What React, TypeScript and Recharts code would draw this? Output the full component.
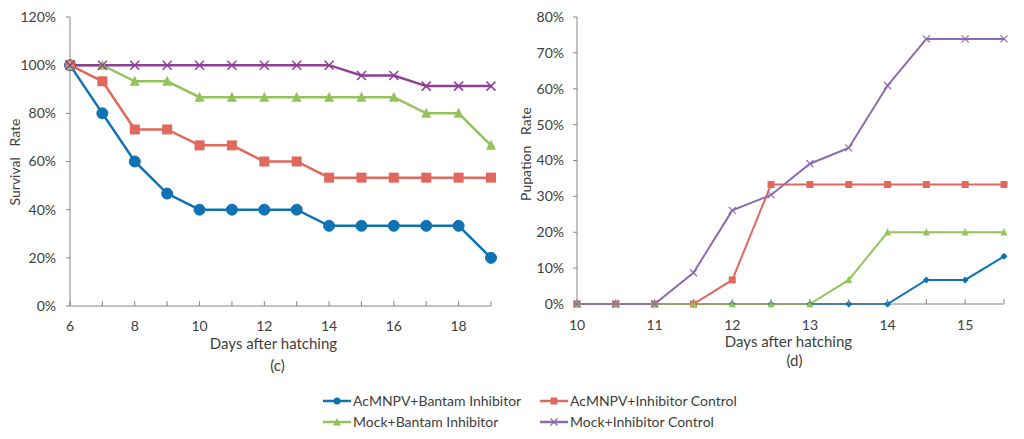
import React from 'react';
import { LineChart, Line, XAxis, YAxis, Legend } from 'recharts';

const daysC = [6, 7, 8, 9, 10, 11, 12, 13, 14, 15, 16, 17, 18, 19];
const cBantam = [100, 80, 60, 46.7, 40, 40, 40, 40, 33.3, 33.3, 33.3, 33.3, 33.3, 20];
const cControl = [100, 93.3, 73.3, 73.3, 66.7, 66.7, 60, 60, 53.3, 53.3, 53.3, 53.3, 53.3, 53.3];
const cMockBantam = [100, 100, 93.3, 93.3, 86.7, 86.7, 86.7, 86.7, 86.7, 86.7, 86.7, 80, 80, 66.7];
const cMockControl = [100, 100, 100, 100, 100, 100, 100, 100, 100, 95.7, 95.7, 91.3, 91.3, 91.3];
const cYTicks = [0, 20, 40, 60, 80, 100, 120];

const daysD = [10, 10.5, 11, 11.5, 12, 12.5, 13, 13.5, 14, 14.5, 15, 15.5];
const dBantam = [0, 0, 0, 0, 0, 0, 0, 0, 0, 6.7, 6.7, 13.3];
const dControl = [0, 0, 0, 0, 6.7, 33.3, 33.3, 33.3, 33.3, 33.3, 33.3, 33.3];
const dMockBantam = [0, 0, 0, 0, 0, 0, 0, 6.7, 20, 20, 20, 20];
const dMockControl = [0, 0, 0, 8.7, 26.1, 30.4, 39.1, 43.5, 60.9, 73.9, 73.9, 73.9];
const dYTicks = [0, 10, 20, 30, 40, 50, 60, 70, 80];

const seriesNames = [
  'AcMNPV+Bantam Inhibitor',
  'AcMNPV+Inhibitor Control',
  'Mock+Bantam Inhibitor',
  'Mock+Inhibitor Control',
];

const dataC = daysC.map((d, i) => ({
  day: d,
  a: cBantam[i],
  b: cControl[i],
  c: cMockBantam[i],
  d: cMockControl[i],
}));
const dataD = daysD.map((d, i) => ({
  day: d,
  a: dBantam[i],
  b: dControl[i],
  c: dMockBantam[i],
  d: dMockControl[i],
}));

const BLUE = '#0E72B3';
const RED = '#E0685C';
const GREEN = '#95C35B';
const PURPLE_C = '#8E3F96';
const PURPLE_D = '#8C6BB0';
const AXIS = '#868686';
const TEXT = '#404040';
const FONT = 'Lato, "Open Sans", sans-serif';

const circleDot = (r: number, color: string) => (p: any) => {
  if (p.cx == null || p.cy == null) return <g key={p.index} />;
  return <circle key={p.index} cx={p.cx} cy={p.cy} r={r} fill={color} stroke={color} />;
};
const squareDot = (s: number, color: string) => (p: any) => {
  if (p.cx == null || p.cy == null) return <g key={p.index} />;
  return <rect key={p.index} x={p.cx - s / 2} y={p.cy - s / 2} width={s} height={s} fill={color} />;
};
const triDot = (s: number, color: string) => (p: any) => {
  if (p.cx == null || p.cy == null) return <g key={p.index} />;
  const h = s * 0.9;
  return (
    <polygon
      key={p.index}
      points={`${p.cx},${p.cy - h / 2 - 1} ${p.cx - s / 2},${p.cy + h / 2} ${p.cx + s / 2},${p.cy + h / 2}`}
      fill={color}
    />
  );
};
const diamondDot = (s: number, color: string) => (p: any) => {
  if (p.cx == null || p.cy == null) return <g key={p.index} />;
  const r = s / 2;
  return (
    <polygon
      key={p.index}
      points={`${p.cx},${p.cy - r} ${p.cx + r},${p.cy} ${p.cx},${p.cy + r} ${p.cx - r},${p.cy}`}
      fill={color}
    />
  );
};
const crossDot = (s: number, color: string, w: number) => (p: any) => {
  if (p.cx == null || p.cy == null) return <g key={p.index} />;
  const r = s / 2;
  return (
    <g key={p.index} stroke={color} strokeWidth={w}>
      <line x1={p.cx - r} y1={p.cy - r} x2={p.cx + r} y2={p.cy + r} />
      <line x1={p.cx - r} y1={p.cy + r} x2={p.cx + r} y2={p.cy - r} />
    </g>
  );
};

const makeXTick = (showLabel: (v: number) => boolean, labelOffset: number) => (props: any) => {
  const { x, y, payload } = props;
  const v = payload.value;
  return (
    <g>
      <line x1={x} x2={x} y1={y} y2={y - 5} stroke={AXIS} strokeWidth={1} />
      {showLabel(v) && (
        <text
          x={x}
          y={y + labelOffset}
          textAnchor="middle"
          dominantBaseline="central"
          fill={TEXT}
          fontSize={14}
          fontFamily={FONT}
        >
          {v}
        </text>
      )}
    </g>
  );
};

const makeXLabel = (title: string, sub: string, tdx: number, tdy: number, sdx: number, sdy: number) => (props: any) => {
  const vb = props.viewBox || {};
  const cx = vb.x + vb.width / 2;
  const top = vb.y;
  return (
    <g fontFamily={FONT} fill={TEXT} fontSize={15}>
      <text x={cx + tdx} y={top + tdy} textAnchor="middle" dominantBaseline="central">
        {title}
      </text>
      <text x={cx + sdx} y={top + sdy} textAnchor="middle" dominantBaseline="central">
        {sub}
      </text>
    </g>
  );
};

const makeYLabel = (title: string, x: number, y: number) => () => (
  <text
    x={x}
    y={y}
    transform={`rotate(-90 ${x} ${y})`}
    textAnchor="middle"
    dominantBaseline="central"
    fill={TEXT}
    fontSize={14}
    fontFamily={FONT}
    style={{ whiteSpace: 'pre' }}
  >
    {title}
  </text>
);

const legendItems = [
  { name: seriesNames[0], color: BLUE, kind: 'circle' },
  { name: seriesNames[1], color: RED, kind: 'square' },
  { name: seriesNames[2], color: GREEN, kind: 'tri' },
  { name: seriesNames[3], color: PURPLE_D, kind: 'cross' },
];

const LegendIcon = ({ color, kind }: { color: string; kind: string }) => (
  <svg width={28} height={12} style={{ display: 'block' }}>
    <line x1={0} y1={6} x2={28} y2={6} stroke={color} strokeWidth={2.5} />
    {kind === 'circle' && <circle cx={14} cy={6} r={3.5} fill={color} />}
    {kind === 'square' && <rect x={10.5} y={2.5} width={7} height={7} fill={color} />}
    {kind === 'tri' && <polygon points="14,2 10,9.5 18,9.5" fill={color} />}
    {kind === 'cross' && (
      <g stroke={color} strokeWidth={1.3}>
        <line x1={10.5} y1={2.5} x2={17.5} y2={9.5} />
        <line x1={10.5} y1={9.5} x2={17.5} y2={2.5} />
      </g>
    )}
  </svg>
);

const LegendContent = () => (
  <div style={{ fontFamily: FONT, fontSize: 14, color: TEXT, width: 480 }}>
    {[0, 2].map((row) => (
      <div key={row} style={{ display: 'flex', height: 21, alignItems: 'center' }}>
        {[row, row + 1].map((i) => (
          <div key={i} style={{ display: 'flex', alignItems: 'center', width: 217 }}>
            <LegendIcon color={legendItems[i].color} kind={legendItems[i].kind} />
            <span style={{ marginLeft: 2, whiteSpace: 'nowrap' }}>{legendItems[i].name}</span>
          </div>
        ))}
      </div>
    ))}
  </div>
);

const ChartC = () => (
  <LineChart width={512} height={439} data={dataC} margin={{ top: 17, right: 21, left: 0, bottom: 103 }}>
    <XAxis
      dataKey="day"
      type="number"
      domain={[6, 19]}
      ticks={daysC}
      interval={0}
      stroke={AXIS}
      tickLine={false}
      tickSize={0}
      tickMargin={0}
      height={30}
      tick={makeXTick((v) => v % 2 === 0, 19)}
      label={{ content: makeXLabel('Days after hatching', '(c)', -7, 37, -3, 59) }}
    />
    <YAxis
      type="number"
      domain={[0, 120]}
      ticks={cYTicks}
      interval={0}
      width={70}
      stroke={AXIS}
      tickSize={4}
      tickMargin={10}
      tick={{ fill: TEXT, fontSize: 14, fontFamily: FONT }}
      tickFormatter={(v) => `${v}%`}
      label={{ content: makeYLabel('Survival   Rate', 14, 162) }}
    />
    <Line dataKey="a" name={seriesNames[0]} stroke={BLUE} strokeWidth={2.5} isAnimationActive={false} dot={circleDot(5.5, BLUE)} />
    <Line dataKey="b" name={seriesNames[1]} stroke={RED} strokeWidth={2.5} isAnimationActive={false} dot={squareDot(10, RED)} />
    <Line dataKey="c" name={seriesNames[2]} stroke={GREEN} strokeWidth={2.5} isAnimationActive={false} dot={triDot(10, GREEN)} />
    <Line dataKey="d" name={seriesNames[3]} stroke={PURPLE_C} strokeWidth={2.5} isAnimationActive={false} dot={crossDot(9, PURPLE_C, 1.5)} />
    <Legend
      layout="horizontal"
      verticalAlign="middle"
      align="center"
      wrapperStyle={{ left: 323, top: 390, width: 480 }}
      content={LegendContent}
    />
  </LineChart>
);

const ChartD = () => (
  <LineChart width={512} height={439} data={dataD} margin={{ top: 17, right: 20, left: 0, bottom: 105 }}>
    <XAxis
      dataKey="day"
      type="number"
      domain={[10, 15.5]}
      ticks={daysD}
      interval={0}
      stroke={AXIS}
      tickLine={false}
      tickSize={0}
      tickMargin={0}
      height={30}
      tick={makeXTick((v) => Number.isInteger(v), 20)}
      label={{ content: makeXLabel('Days after hatching', '(d)', -2, 37, 4, 56) }}
    />
    <YAxis
      type="number"
      domain={[0, 80]}
      ticks={dYTicks}
      interval={0}
      width={65}
      stroke={AXIS}
      tickSize={4}
      tickMargin={9}
      tick={{ fill: TEXT, fontSize: 14, fontFamily: FONT }}
      tickFormatter={(v) => `${v}%`}
      label={{ content: makeYLabel('Pupation   Rate', 13, 154) }}
    />
    <Line dataKey="a" name={seriesNames[0]} stroke={BLUE} strokeWidth={2} isAnimationActive={false} dot={diamondDot(7, BLUE)} />
    <Line dataKey="b" name={seriesNames[1]} stroke={RED} strokeWidth={2} isAnimationActive={false} dot={squareDot(7, RED)} />
    <Line dataKey="c" name={seriesNames[2]} stroke={GREEN} strokeWidth={2} isAnimationActive={false} dot={triDot(7, GREEN)} />
    <Line dataKey="d" name={seriesNames[3]} stroke={PURPLE_D} strokeWidth={2} isAnimationActive={false} dot={crossDot(7, PURPLE_D, 1.2)} />
  </LineChart>
);

export default function App() {
  return (
    <div style={{ position: 'absolute', left: 0, top: 0, width: 1024, height: 439, background: '#fff', overflow: 'hidden' }}>
      <div style={{ position: 'absolute', left: 0, top: 0 }}>
        <ChartC />
      </div>
      <div style={{ position: 'absolute', left: 512, top: 0 }}>
        <ChartD />
      </div>
    </div>
  );
}
